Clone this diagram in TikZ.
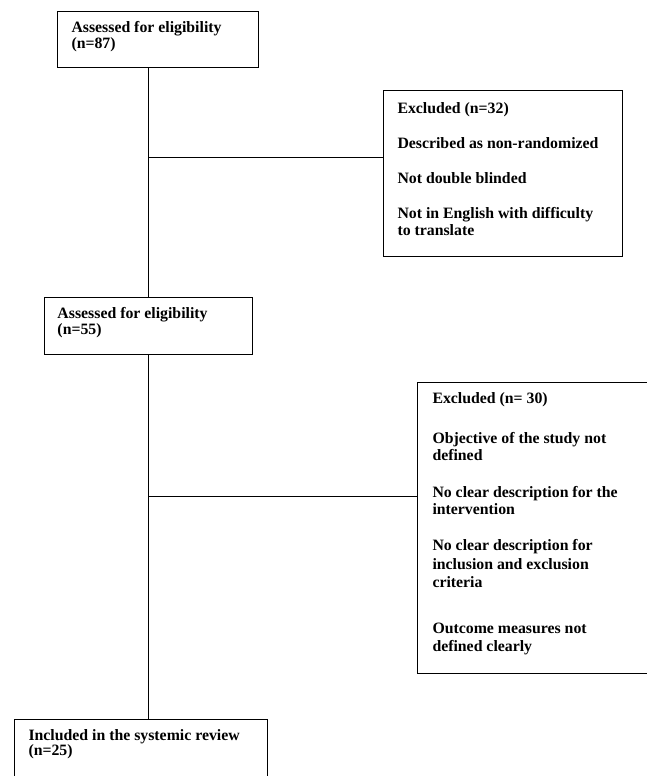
\documentclass[tikz,border=0pt]{standalone}
\usepackage{fontspec}
\setmainfont{Liberation Serif}
\newcommand\bxc[5]{\parbox[t][#2][t]{#1}{\raggedright\leftskip=#3\relax\rule{0pt}{#4}#5}}
\tikzset{
  flowbox/.style={draw, line width=1pt, inner sep=0pt, anchor=north west,
    font=\bfseries\fontsize{15.8}{17}\selectfont},
  conn/.style={line width=1pt}
}
\begin{document}
\begin{tikzpicture}[x=1pt,y=-1pt]
\useasboundingbox (0,0) rectangle (646,776);
\node[flowbox] (b1) at (57,11) {\bxc{201pt}{56pt}{14pt}{21pt}{Assessed for eligibility\\[-1pt](n=87)}};
\node[flowbox] (ex1) at (383,90) {\bxc{239pt}{166pt}{14pt}{23pt}{Excluded (n=32)\\[18pt]Described as non-randomized\\[18pt]Not double blinded\\[18pt]Not in English with difficulty\\to translate}};
\node[flowbox] (b2) at (44,297) {\bxc{208pt}{57pt}{13pt}{21pt}{Assessed for eligibility\\[-1pt](n=55)}};
\node[flowbox] (ex2) at (417,382) {\bxc{240pt}{291pt}{15pt}{21pt}{Excluded (n= 30)\\[23pt]Objective of the study not\\defined\\[20pt]No clear description for the\\intervention\\[19pt]No clear description for\\[1.5pt]inclusion and exclusion\\[1pt]criteria\\[29pt]Outcome measures not\\[1pt]defined clearly}};
\node[flowbox] (b3) at (14,719) {\bxc{253pt}{70pt}{14pt}{21pt}{Included in the systemic review\\[-2pt](n=25)}};
\coordinate (j1) at (148,157);
\coordinate (j2) at (148,496);
\draw[conn] (b1.south -| j1) -- (b2.north -| j1);
\draw[conn] (j1) -- (j1 -| ex1.west);
\draw[conn] (b2.south -| j2) -- (b3.north -| j2);
\draw[conn] (j2) -- (j2 -| ex2.west);
\end{tikzpicture}
\end{document}
